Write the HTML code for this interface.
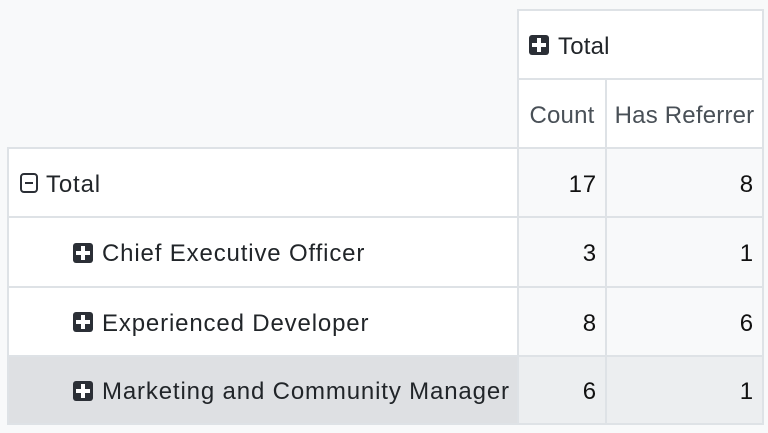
<!DOCTYPE html>
<html><head><style>
body{margin:0;width:768px;height:433px;background:#f8f9fa;position:relative;overflow:hidden;font-family:"Liberation Sans",sans-serif;color:#212529;}
.c{position:absolute;box-sizing:border-box;border:2px solid #dee2e6;display:flex;align-items:center;font-size:24px;letter-spacing:0.85px;padding-top:4px;}
.w{background:#fff}
.v{background:#f8f9fa;justify-content:flex-end;padding-right:8px;color:#111}
.h{color:#495057;letter-spacing:0.2px}
.ic{display:inline-block;width:20px;height:20px;background:#2b2f36;border-radius:3px;position:relative;margin-right:9px;vertical-align:middle;flex:none;margin-top:-3px}
.ic:before{content:"";position:absolute;left:8px;top:3px;width:4px;height:14px;background:#fff}
.ic:after{content:"";position:absolute;left:3px;top:8px;width:14px;height:4px;background:#fff}
.mi{display:inline-block;width:18px;height:20px;border:2px solid #2b2f36;border-radius:4px;position:relative;margin-right:8px;box-sizing:border-box;flex:none;margin-top:-3px}
.mi:after{content:"";position:absolute;left:3px;top:7px;width:8px;height:2px;background:#2b2f36}
</style></head><body>
<div class="c w h" style="left:517px;top:9px;width:247px;height:71px;padding-left:10px;color:#212529"><span class="ic"></span>Total</div>
<div class="c w h" style="left:517px;top:78px;width:90px;height:72px;justify-content:center">Count</div>
<div class="c w h" style="left:605px;top:78px;width:159px;height:72px;justify-content:center">Has Referrer</div>

<div class="c w" style="left:7px;top:147px;width:512px;height:71px;padding-left:11px"><span class="mi"></span>Total</div>
<div class="c v" style="left:517px;top:147px;width:90px;height:71px">17</div>
<div class="c v" style="left:605px;top:147px;width:159px;height:71px">8</div>

<div class="c w" style="left:7px;top:216px;width:512px;height:72px;padding-left:64px"><span class="ic"></span>Chief Executive Officer</div>
<div class="c v" style="left:517px;top:216px;width:90px;height:72px">3</div>
<div class="c v" style="left:605px;top:216px;width:159px;height:72px">1</div>

<div class="c w" style="left:7px;top:286px;width:512px;height:71px;padding-left:64px"><span class="ic"></span>Experienced Developer</div>
<div class="c v" style="left:517px;top:286px;width:90px;height:71px">8</div>
<div class="c v" style="left:605px;top:286px;width:159px;height:71px">6</div>

<div class="c" style="left:7px;top:355px;width:512px;height:70px;padding-left:64px;background:#dee0e3"><span class="ic"></span>Marketing and Community Manager</div>
<div class="c v" style="left:517px;top:355px;width:90px;height:70px;background:#eceef0">6</div>
<div class="c v" style="left:605px;top:355px;width:159px;height:70px;background:#eceef0">1</div>
</body></html>
